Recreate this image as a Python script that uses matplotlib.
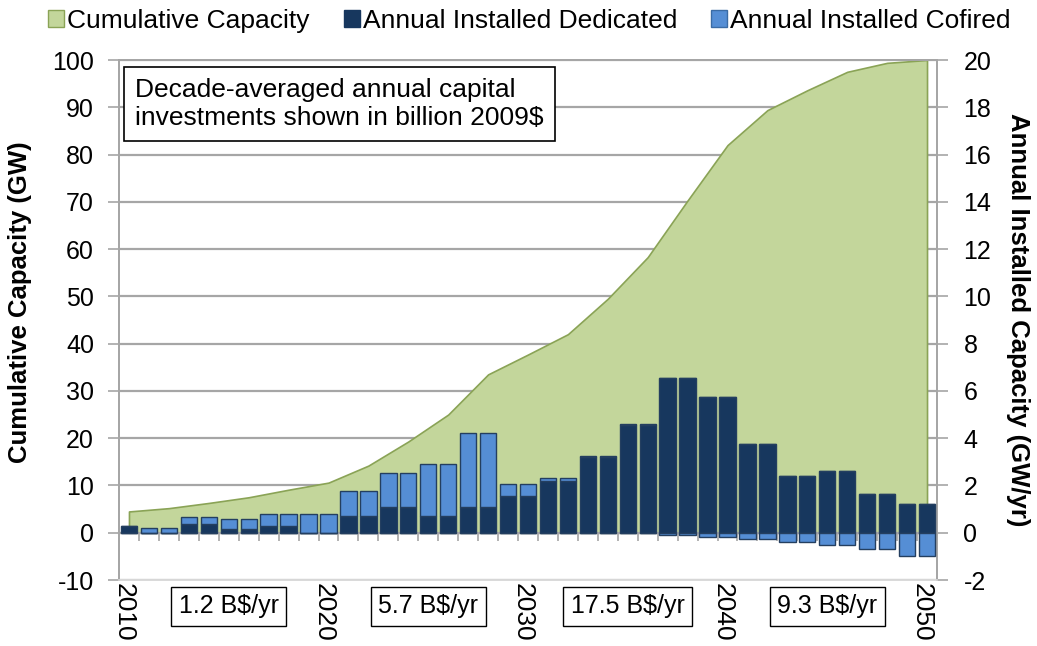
import matplotlib
matplotlib.use('Agg')
import matplotlib.pyplot as plt
import matplotlib.transforms as mtransforms
from matplotlib.patches import Patch

plt.rcParams['font.family'] = ['Liberation Sans', 'DejaVu Sans']
plt.rcParams['axes.unicode_minus'] = False

# ==============================================
# Data
# ==============================================
years = list(range(2010, 2051))

# annual installed capacity, GW/yr (right axis)
dedicated = [0.28, 0.0, 0.0, 0.37, 0.37, 0.17, 0.17, 0.28, 0.28, 0.0,
             0.0, 0.72, 0.72, 1.08, 1.08, 0.72, 0.72, 1.08, 1.08, 1.55,
             1.55, 2.18, 2.18, 3.22, 3.22, 4.56, 4.56, 6.56, 6.56, 5.74,
             5.74, 3.76, 3.76, 2.40, 2.40, 2.62, 2.62, 1.64, 1.64, 1.20,
             1.20]
cofired = [0.0, 0.22, 0.22, 0.29, 0.29, 0.39, 0.39, 0.50, 0.50, 0.78,
           0.78, 1.03, 1.03, 1.44, 1.44, 2.18, 2.18, 3.14, 3.14, 0.53,
           0.53, 0.12, 0.12, 0.04, 0.04, 0.03, 0.03, -0.11, -0.11, -0.17,
           -0.17, -0.28, -0.28, -0.40, -0.40, -0.51, -0.51, -0.68, -0.68, -0.99,
           -0.99]

# cumulative capacity, GW (left axis), every other year
cum_years = list(range(2010, 2051, 2))
cum_capacity = [4.5, 5.2, 6.3, 7.5, 9.1, 10.6, 14.2, 19.3, 25.0, 33.5,
                37.7, 42.0, 49.5, 58.3, 70.3, 82.0, 89.4, 93.6, 97.5, 99.4,
                100.0]

# decade-averaged capital investments
decade_mid = [2015, 2025, 2035, 2045]
invest = [1.2, 5.7, 17.5, 9.3]

green = '#C3D69B'
green_edge = '#8AA356'
navy = '#17375E'
blue = '#558ED5'
grid_c = '#A6A6A6'

fig = plt.figure(figsize=(10.37, 6.46), dpi=100)
ax = fig.add_axes([119 / 1037, 1 - 580 / 646, 818 / 1037, 520 / 646])
ax2 = ax.twinx()

# ==============================================
# Cumulative capacity area (left axis)
# ==============================================
ax.fill_between(cum_years, cum_capacity, 0, facecolor=green,
                edgecolor=green_edge, linewidth=1.2, zorder=2)
ax.set_ylim(-10, 100)
ax.set_yticks(range(-10, 101, 10))
ax.yaxis.grid(True, color=grid_c, linewidth=1.6, zorder=0)
ax.set_axisbelow(True)
ax.set_xlim(2009.5, 2050.5)

# ==============================================
# Annual installed bars (right axis)
# ==============================================
pos_cof = [max(c, 0) for c in cofired]
neg_cof = [min(c, 0) for c in cofired]
ax2.bar(years, dedicated, width=0.82, color=navy, edgecolor='#243F60',
        linewidth=1.0, zorder=3)
ax2.bar(years, pos_cof, width=0.82, bottom=dedicated, color=blue,
        edgecolor='#243F60', linewidth=1.0, zorder=3)
ax2.bar(years, neg_cof, width=0.82, color=blue, edgecolor='#243F60',
        linewidth=1.0, zorder=3)
ax2.set_ylim(-2, 20)
ax2.set_yticks(range(-2, 21, 2))
ax2.set_xlim(2009.5, 2050.5)

# zero line with category tick marks
zero = ax2.secondary_xaxis(10 / 110)
zero.set_xticks([y + 0.5 for y in years[:-1]])
zero.tick_params(axis='x', direction='out', length=6, width=1.2,
                 color=grid_c, labelbottom=False)
zero.spines['bottom'].set_color(grid_c)
zero.spines['bottom'].set_linewidth(1.6)

# ==============================================
# Axes styling
# ==============================================
ax.set_xticks([2010, 2020, 2030, 2040, 2050])
ax.set_xticklabels(['2010', '2020', '2030', '2040', '2050'],
                   rotation=270, fontsize=19)
ax.tick_params(axis='x', length=0, pad=2)
shift = mtransforms.ScaledTranslation(-5 / 100, 0, fig.dpi_scale_trans)
for lab in ax.get_xticklabels():
    lab.set_transform(lab.get_transform() + shift)
ax.tick_params(axis='y', direction='out', length=8, width=1.2,
               color=grid_c, labelsize=18, pad=10)
ax2.tick_params(axis='y', direction='out', length=8, width=1.2,
                color=grid_c, labelsize=18, pad=11)

for a in (ax, ax2):
    for side in ('left', 'right', 'top'):
        a.spines[side].set_color(grid_c)
        a.spines[side].set_linewidth(1.4)
    a.spines['bottom'].set_color('#D9D9D9')
    a.spines['bottom'].set_linewidth(1.2)

ax.set_ylabel('Cumulative Capacity (GW)', fontsize=18.5, fontweight='bold')
ax.yaxis.set_label_coords(-0.106, 0.535)
ax2.set_ylabel('Annual Installed Capacity (GW/yr)', fontsize=18.5,
               fontweight='bold', rotation=270, va='bottom')
ax2.yaxis.set_label_coords(1.084, 0.5)

# ==============================================
# Annotations
# ==============================================
ax2.text(2010.3, 19.25, 'Decade-averaged annual capital\ninvestments shown in billion 2009$',
         fontsize=19, va='top', ha='left', linespacing=1.2, zorder=5,
         bbox=dict(boxstyle='square,pad=0.42', fc='white', ec='black', lw=1.2))

for xm, v in zip(decade_mid, invest):
    ax.text(xm, -0.05, '{} B$/yr'.format(v), transform=ax.get_xaxis_transform(),
            fontsize=18, ha='center', va='center',
            bbox=dict(boxstyle='square,pad=0.3', fc='white', ec='black', lw=1.0))

# ==============================================
# Legend
# ==============================================
handles = [Patch(facecolor=green, edgecolor=green_edge, label='Cumulative Capacity'),
           Patch(facecolor=navy, edgecolor=navy, label='Annual Installed Dedicated'),
           Patch(facecolor=blue, edgecolor='#3A6BA5', label='Annual Installed Cofired')]
fig.legend(handles=handles, loc='center', bbox_to_anchor=(0.5106, 0.968), ncol=3,
           frameon=False, fontsize=19, handlelength=0.6, handleheight=0.6,
           handletextpad=0.12, columnspacing=1.3, borderaxespad=0)

fig.savefig('out.png', dpi=100)
